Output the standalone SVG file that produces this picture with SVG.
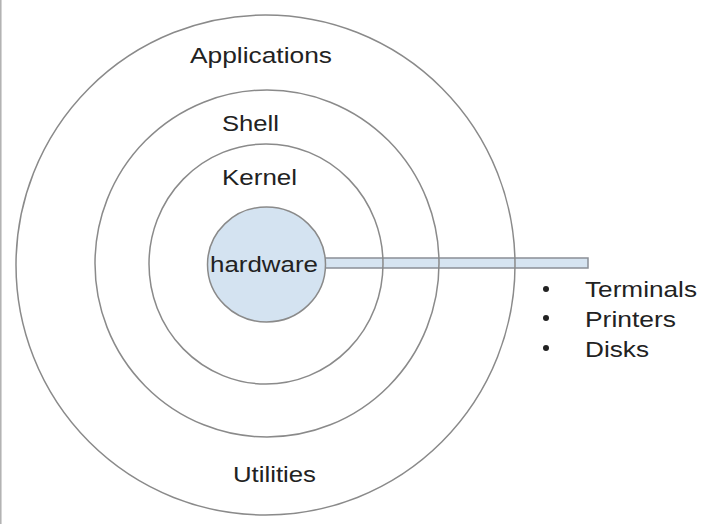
<svg xmlns="http://www.w3.org/2000/svg" width="708" height="524" viewBox="0 0 708 524">
<style>
.ring{fill:none;stroke:#8a8a8a;stroke-width:1.5}
.lbl{font-family:"Liberation Sans",Arial,sans-serif;font-size:22px;fill:#222}
.blt{fill:#222}
</style>
<rect x="0" y="0" width="708" height="524" fill="#ffffff"/>
<line x1="0.8" y1="0" x2="0.8" y2="524" stroke="#b0b0b0" stroke-width="1.5"/>
<g id="connectors">
<rect x="323" y="258" width="265" height="10" fill="#d6e4f1" stroke="#8a8f96" stroke-width="1.5"/>
</g>
<g id="applications">
<ellipse class="ring" cx="265.5" cy="265" rx="249.5" ry="250"/>
<text class="lbl" x="190" y="63" textLength="142" lengthAdjust="spacingAndGlyphs">Applications</text>
<text class="lbl" x="233" y="482" textLength="83" lengthAdjust="spacingAndGlyphs">Utilities</text>
</g>
<g id="shell">
<ellipse class="ring" cx="267" cy="263.5" rx="172" ry="173.5"/>
<text class="lbl" x="222" y="131" textLength="57" lengthAdjust="spacingAndGlyphs">Shell</text>
</g>
<g id="kernel">
<ellipse class="ring" cx="266" cy="264" rx="117" ry="120"/>
<text class="lbl" x="222" y="185" textLength="75" lengthAdjust="spacingAndGlyphs">Kernel</text>
</g>
<g id="hardware">
<ellipse cx="266.5" cy="264.5" rx="59" ry="57.5" fill="#d4e3f1" stroke="#8a8a8a" stroke-width="1.5"/>
<text class="lbl" x="210" y="272" textLength="108" lengthAdjust="spacingAndGlyphs">hardware</text>
</g>
<g id="devices">
<circle class="blt" cx="546" cy="289" r="3"/>
<circle class="blt" cx="546" cy="318" r="3"/>
<circle class="blt" cx="546" cy="348" r="3"/>
<text class="lbl" x="585" y="297" textLength="112" lengthAdjust="spacingAndGlyphs">Terminals</text>
<text class="lbl" x="585" y="327" textLength="91" lengthAdjust="spacingAndGlyphs">Printers</text>
<text class="lbl" x="585" y="357" textLength="64" lengthAdjust="spacingAndGlyphs">Disks</text>
</g>
</svg>
